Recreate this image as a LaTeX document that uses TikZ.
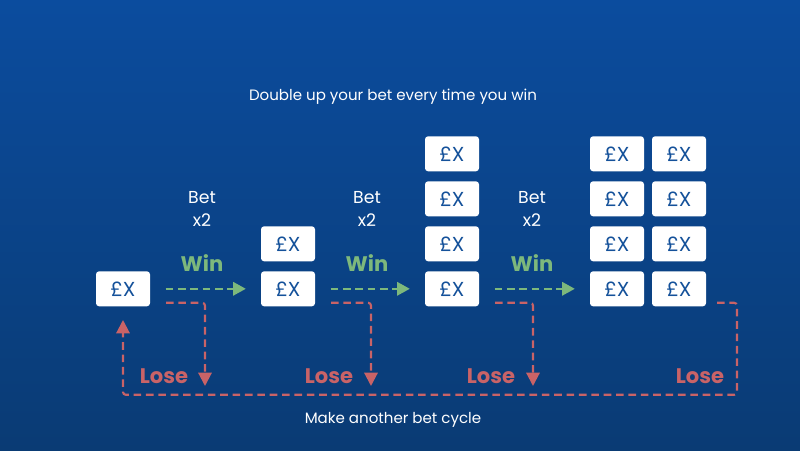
\documentclass[tikz,border=0pt]{standalone}
\usepackage{fontspec}
\setmainfont{Poppins}
\usepackage{xcolor}
\usetikzlibrary{arrows.meta, positioning}
\definecolor{bgtop}{HTML}{0B4C9E}
\definecolor{bgbottom}{HTML}{0A3B74}
\definecolor{boxtext}{HTML}{14519A}
\definecolor{wingreen}{HTML}{7DB87C}
\definecolor{losered}{HTML}{C96367}
\tikzset{
    stake/.style = {draw = none, fill = white, rounded corners = 2.2pt, outer sep = 0pt, minimum width = 1.35cm, minimum height = 0.875cm, inner sep = 0pt, text = boxtext, font = \fontsize{14.4}{15}\selectfont},
    caption/.style = {text = white, font = \fontsize{10.7}{13}\selectfont},
    betlabel/.style = {text = white, align = center, font = \fontsize{12.3}{16.2}\selectfont},
    winlabel/.style = {text = wingreen, font = \fontsize{15}{16}\selectfont\bfseries},
    loselabel/.style = {text = losered, font = \fontsize{15}{16}\selectfont\bfseries},
    winline/.style = {draw = wingreen, line width = 1.5pt, dash pattern = on 5.4pt off 3.4pt, -{Triangle[length = 9pt, width = 9.5pt]}, shorten < = 0.39cm, shorten > = 0.38cm},
    loseline/.style = {draw = losered, line width = 1.5pt, dash pattern = on 5.4pt off 3.4pt, rounded corners = 2pt},
    loseend/.style = {-{Triangle[length = 9.5pt, width = 9.5pt]}}
}
\begin{document}
\begin{tikzpicture}
    % Sfondo
    \shade[top color = bgtop, bottom color = bgbottom] (0,0) rectangle (20,11.25);
    % Titoli
    \node[caption] (title) at (9.825,8.82){Double up your bet every time you win};
    \node[caption] (cycle) at (9.825,0.76){Make another bet cycle};
    % Prima colonna
    \node[stake] (a1) at (3.075,4.03){£X};
    % Seconda colonna
    \node[stake] (b1) at (7.2,4.03){£X};
    \node[stake, above = 0.25cm of b1] (b2){£X};
    % Terza colonna
    \node[stake] (c1) at (11.3,4.03){£X};
    \node[stake, above = 0.25cm of c1] (c2){£X};
    \node[stake, above = 0.25cm of c2] (c3){£X};
    \node[stake, above = 0.25cm of c3] (c4){£X};
    % Quarta colonna
    \node[stake] (d1) at (15.425,4.03){£X};
    \node[stake, above = 0.25cm of d1] (d2){£X};
    \node[stake, above = 0.25cm of d2] (d3){£X};
    \node[stake, above = 0.25cm of d3] (d4){£X};
    % Quinta colonna
    \node[stake] (e1) at (16.975,4.03){£X};
    \node[stake, above = 0.25cm of e1] (e2){£X};
    \node[stake, above = 0.25cm of e2] (e3){£X};
    \node[stake, above = 0.25cm of e3] (e4){£X};
    % Scritte
    \node[betlabel] (bet1) at (5.05,6.03){Bet\\x2};
    \node[betlabel] (bet2) at (9.175,6.03){Bet\\x2};
    \node[betlabel] (bet3) at (13.3,6.03){Bet\\x2};
    \node[winlabel] (win1) at (5.05,4.67){Win};
    \node[winlabel] (win2) at (9.175,4.67){Win};
    \node[winlabel] (win3) at (13.3,4.67){Win};
    \node[loselabel] (lose1) at (4.1,1.84){Lose};
    \node[loselabel] (lose2) at (8.225,1.84){Lose};
    \node[loselabel] (lose3) at (12.275,1.84){Lose};
    \node[loselabel] (lose4) at (17.5,1.84){Lose};
    % Frecce verdi
    \draw[winline] (a1) -- (b1);
    \draw[winline] (b1) -- (c1);
    \draw[winline] (c1) -- (d1);
    % Punti di partenza e di arrivo delle linee rosse
    \coordinate (s1) at (4.15,3.68);
    \coordinate (t1) at (5.125,1.6);
    \coordinate (s2) at (8.275,3.68);
    \coordinate (t2) at (9.275,1.6);
    \coordinate (s3) at (12.375,3.68);
    \coordinate (t3) at (13.325,1.6);
    \coordinate (s4) at (17.925,3.68);
    \coordinate (r1) at (18.425,3.68);
    \coordinate (r2) at (18.425,1.38);
    \coordinate (r3) at (3.075,1.38);
    \coordinate (r4) at (3.075,3.25);
    % Frecce rosse
    \draw[loseline, loseend] (s1) -| (t1);
    \draw[loseline, loseend] (s2) -| (t2);
    \draw[loseline, loseend] (s3) -| (t3);
    \draw[loseline, loseend] (s4) -- (r1) -- (r2) -- (r3) -- (r4);
\end{tikzpicture}
\end{document}
